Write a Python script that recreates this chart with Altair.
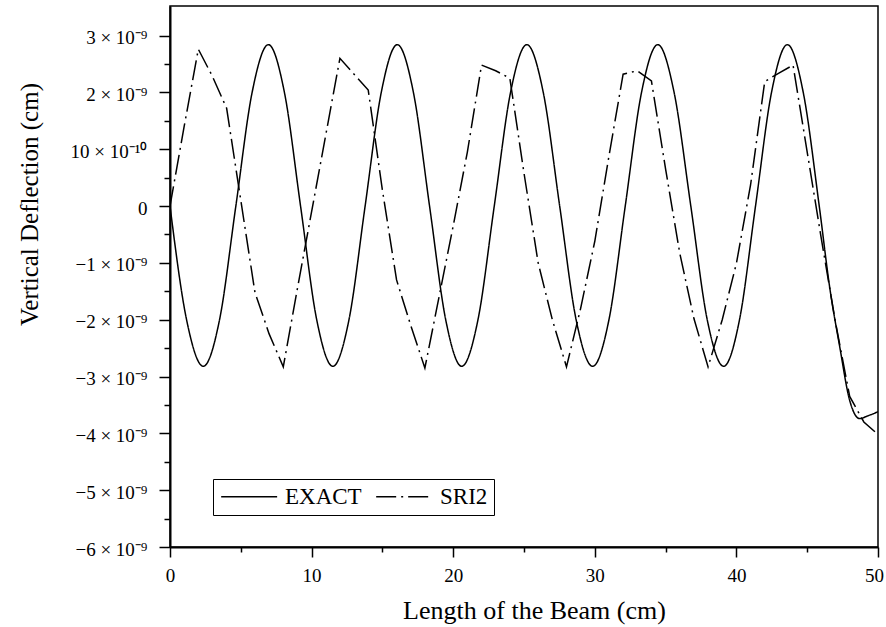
import altair as alt
import pandas as pd

# ---- data (values in units of 1e-9 cm) ----
series_names = ["EXACT", "SRI2"]

exact_x = [0, 1.17, 2.35, 3.5, 4.65, 5.8, 6.95, 8.08, 9.22, 10.36, 11.5, 12.64,
           13.78, 14.92, 16.05, 17.19, 18.33, 19.47, 20.6, 21.75, 22.9, 24.05,
           25.2, 26.36, 27.52, 28.68, 29.85, 31.0, 32.15, 33.3, 34.45, 35.6,
           36.78, 37.94, 39.1, 40.22, 41.35, 42.48, 43.6, 44.72, 45.85, 46.6,
           47.3, 48.0, 48.7, 49.3, 50.0]
exact_y = [0, -2.0, -2.82, -2.0, 0, 2.0, 2.84, 2.0, 0, -2.0, -2.82, -2.0,
           0, 2.0, 2.84, 2.0, 0, -2.0, -2.82, -2.0, 0, 2.0,
           2.84, 2.0, 0, -2.0, -2.82, -2.0, 0, 2.0, 2.84, 2.0,
           0, -2.0, -2.82, -2.0, 0, 2.0, 2.84, 2.0, 0, -1.45,
           -2.48, -3.42, -3.74, -3.69, -3.62]

sri2_x = list(range(0, 51))
sri2_y = [0.0, 1.4, 2.76, 2.28, 1.72, 0.1, -1.52, -2.25, -2.83, -1.45,
          -0.1, 1.25, 2.6, 2.32, 2.04, 0.28, -1.3, -2.1, -2.85, -1.6,
          -0.35, 0.95, 2.48, 2.38, 2.25, 0.58, -1.0, -2.0, -2.83, -1.8,
          -0.62, 0.88, 2.32, 2.38, 2.2, 0.65, -0.83, -1.98, -2.83, -2.0,
          -1.01, 0.37, 2.19, 2.34, 2.48, 0.95, -0.58, -2.05, -3.35, -3.8,
          -4.02]

x_tick_values = [0, 5, 10, 15, 20, 25, 30, 35, 40, 45, 50]
x_major_values = [0, 10, 20, 30, 40, 50]
x_major_labels = ["0", "10", "20", "30", "40", "50"]

y_tick_values = [-6, -5.5, -5, -4.5, -4, -3.5, -3, -2.5, -2, -1.5, -1, -0.5,
                 0, 0.5, 1, 1.5, 2, 2.5, 3]
y_major_values = [-6, -5, -4, -3, -2, -1, 0, 1, 2, 3]
y_major_labels = ["\u22126 \u00d7 10\u207b\u2079", "\u22125 \u00d7 10\u207b\u2079",
                  "\u22124 \u00d7 10\u207b\u2079", "\u22123 \u00d7 10\u207b\u2079",
                  "\u22122 \u00d7 10\u207b\u2079", "\u22121 \u00d7 10\u207b\u2079",
                  "0", "10 \u00d7 10\u207b\u00b9\u2070",
                  "2 \u00d7 10\u207b\u2079", "3 \u00d7 10\u207b\u2079"]


def label_expr(values, labels):
    parts = [f"datum.value === {v} ? '{l}'" for v, l in zip(values, labels)]
    return " : ".join(parts) + " : ''"


df_exact = pd.DataFrame({"x": exact_x, "y": exact_y, "series": series_names[0]})
df_sri2 = pd.DataFrame({"x": sri2_x, "y": sri2_y, "series": series_names[1]})

FONT = "Liberation Serif"

x_enc = alt.X(
    "x:Q",
    scale=alt.Scale(domain=[0, 50], nice=False, zero=False),
    axis=alt.Axis(
        values=x_tick_values,
        labelExpr=label_expr(x_major_values, x_major_labels),
        tickSize={"condition": {"test": "datum.value % 10 === 0", "value": 10}, "value": 5},
        labelOffset={"condition": {"test": "datum.value === 50", "value": -4}, "value": 0},
        tickWidth=1.5, tickColor="black",
        domainWidth=2, domainColor="black",
        labelFont=FONT, labelFontSize=19, labelColor="black", labelPadding=9,
        labelFlush=False, labelOverlap=False, labelBound=False,
        grid=False,
        title="Length of the Beam (cm)",
        titleFont=FONT, titleFontSize=26, titleFontWeight="normal", titleColor="black",
        titleX=364, titleY=71, titleBaseline="alphabetic", titleAlign="center",
    ),
)

y_enc = alt.Y(
    "y:Q",
    scale=alt.Scale(domain=[-6, 3.52], nice=False, zero=False),
    axis=alt.Axis(
        values=y_tick_values,
        labelExpr=label_expr(y_major_values, y_major_labels),
        tickSize={"condition": {"test": "datum.value % 1 === 0", "value": 11}, "value": 6},
        tickWidth=1.5, tickColor="black",
        domainWidth=2, domainColor="black",
        labelFont=FONT, labelFontSize=19, labelColor="black", labelPadding=12,
        labelOffset=2,
        labelFlush=False, labelOverlap=False, labelBound=False,
        grid=False,
        title="Vertical Deflection (cm)",
        titleFont=FONT, titleFontSize=25, titleFontWeight="normal", titleColor="black",
        titleAngle=270, titleX=-133, titleY=198, titleBaseline="alphabetic",
        titleAlign="center",
    ),
)

dash_enc = alt.StrokeDash(
    "series:N",
    scale=alt.Scale(domain=series_names, range=[[1, 0], [20, 5, 2, 5]]),
    legend=alt.Legend(
        title=None, orient="none", legendX=43, legendY=473, direction="horizontal",
        symbolType="M-1,0H5", symbolSize=348, symbolStrokeWidth=1.5,
        symbolStrokeColor="black",
        labelFont=FONT, labelFontSize=23, labelColor="black", labelOffset=43,
        columnPadding=11, padding=6, strokeColor="black", fillColor="white",
    ),
)

exact_line = alt.Chart(df_exact).mark_line(
    color="black", strokeWidth=1.5, interpolate="monotone", clip=True
).encode(x=x_enc, y=y_enc, strokeDash=dash_enc)

sri2_line = alt.Chart(df_sri2).mark_line(
    color="black", strokeWidth=1.5, clip=True
).encode(x=x_enc, y=y_enc, strokeDash=dash_enc)

chart = alt.layer(exact_line, sri2_line).properties(
    width=708,
    height=541,
    padding={"left": 170, "top": 6, "right": 8, "bottom": 80},
    autosize=alt.AutoSizeParams(type="none"),
    background="white",
).configure_view(stroke="black", strokeWidth=1.5)

chart.save("out.html", embed_options={"renderer": "svg", "actions": False})
